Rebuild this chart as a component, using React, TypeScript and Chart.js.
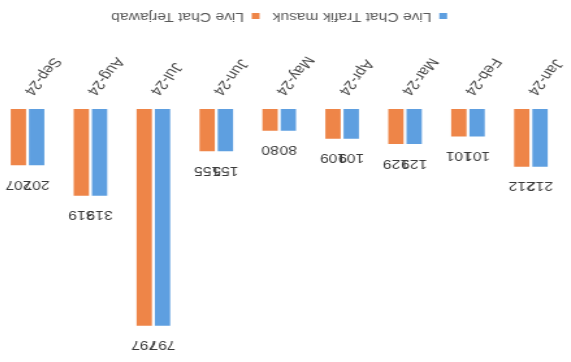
import React, { useEffect, useRef } from "react";
import { Chart, registerables } from "chart.js";

Chart.register(...registerables);

// Monthly live chat figures, 2024
const months = ["Jan-24", "Feb-24", "Mar-24", "Apr-24", "May-24", "Jun-24", "Jul-24", "Aug-24", "Sep-24"];
const trafikMasuk = [212, 101, 129, 109, 80, 155, 797, 319, 207];
const terjawab = [212, 101, 129, 109, 80, 155, 797, 319, 207];
const seriesNames = ["Live Chat Trafik masuk", "Live Chat Terjawab"];
const yMax = 890;

const FONT = "'Liberation Sans', Arial, Helvetica, sans-serif";
const BLUE = "#5E9FE0";
const ORANGE = "#EE8548";

// Canvas size before the sheet is stretched and turned
const CANVAS_W = 445;
const CANVAS_H = 362;
const STRETCH_X = 1.3;

// Prints each bar's value above its top
const valueLabels = {
  id: "valueLabels",
  afterDatasetsDraw(chart: any) {
    const ctx = chart.ctx;
    ctx.save();
    ctx.font = `12px ${FONT}`;
    ctx.fillStyle = "#3a3a3a";
    ctx.textAlign = "center";
    ctx.textBaseline = "middle";
    chart.data.datasets.forEach((ds: any, i: number) => {
      const meta = chart.getDatasetMeta(i);
      meta.data.forEach((bar: any, j: number) => {
        ctx.fillText(String(ds.data[j]), bar.x, bar.y - 19);
      });
    });
    ctx.restore();
  },
};

// White page behind the chart
const whiteBackground = {
  id: "whiteBackground",
  beforeDraw(chart: any) {
    const ctx = chart.ctx;
    ctx.save();
    ctx.fillStyle = "#ffffff";
    ctx.fillRect(0, 0, chart.width, chart.height);
    ctx.restore();
  },
};

export default function App() {
  const canvasRef = useRef<HTMLCanvasElement | null>(null);

  useEffect(() => {
    if (!canvasRef.current) return;
    const chart = new Chart(canvasRef.current, {
      type: "bar",
      data: {
        labels: months,
        datasets: [
          {
            label: seriesNames[0],
            data: trafikMasuk,
            backgroundColor: BLUE,
            borderWidth: 0,
          },
          {
            label: seriesNames[1],
            data: terjawab,
            backgroundColor: ORANGE,
            borderWidth: 0,
          },
        ],
      },
      options: {
        responsive: false,
        animation: false,
        devicePixelRatio: 1,
        layout: { padding: { top: 11, left: 6.6, right: 2.8, bottom: 0 } },
        datasets: {
          bar: { categoryPercentage: 0.58, barPercentage: 0.84 },
        },
        scales: {
          x: {
            grid: { display: false, drawTicks: false },
            border: { display: false },
            ticks: {
              minRotation: 57,
              maxRotation: 57,
              padding: 11,
              color: "#4a4a4a",
              font: { family: FONT, size: 13 },
            },
            afterFit(scale: any) {
              scale.height = 77;
              scale.paddingLeft = 0;
              scale.paddingRight = 0;
            },
          },
          y: {
            display: false,
            min: 0,
            max: yMax,
          },
        },
        plugins: {
          legend: {
            position: "bottom",
            labels: {
              boxWidth: 6,
              boxHeight: 6,
              padding: 10,
              color: "#595959",
              font: { family: FONT, size: 12 },
            },
          },
          tooltip: { enabled: false },
        },
      },
      plugins: [whiteBackground, valueLabels],
    });
    return () => chart.destroy();
  }, []);

  return (
    <div
      style={{
        position: "fixed",
        left: 0,
        top: 0,
        width: 571,
        height: 362,
        overflow: "hidden",
        background: "#ffffff",
      }}
    >
      <div
        style={{
          position: "absolute",
          left: 0,
          top: 0,
          width: CANVAS_W,
          height: CANVAS_H,
          transformOrigin: "0 0",
          transform: `translate(571px, 362px) rotate(180deg) scaleX(${STRETCH_X})`,
        }}
      >
        <canvas ref={canvasRef} width={CANVAS_W} height={CANVAS_H} />
      </div>
    </div>
  );
}
